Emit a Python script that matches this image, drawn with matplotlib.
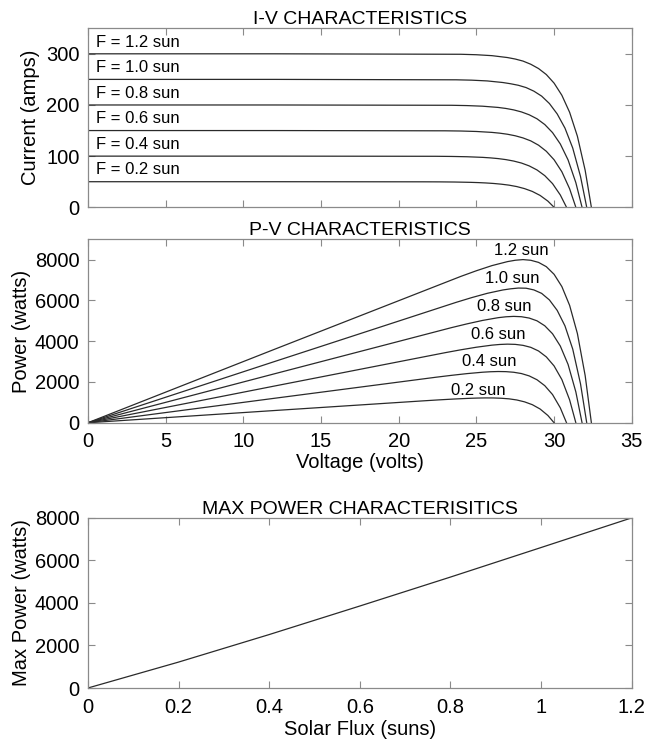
import matplotlib
matplotlib.use("Agg")
import matplotlib.pyplot as plt
import numpy as np

plt.rcParams['font.family'] = ['Liberation Sans', 'DejaVu Sans']

# solar flux levels (suns)
flux = [0.2, 0.4, 0.6, 0.8, 1.0, 1.2]

# I-V points per flux level: voltage (volts) and current (amps)
v_02 = [0, 12, 21.6, 22.6, 23.6, 24.6, 25.1, 25.6, 26.1, 26.6, 27.1, 27.6, 28.1, 28.6, 29.1, 29.6, 30.0]
i_02 = [50, 50, 49.8, 49.7, 49.4, 48.8, 48.3, 47.6, 46.6, 45.2, 43.3, 40.5, 36.5, 31.0, 23.2, 12.1, 0]

v_04 = [0, 12, 22.4, 23.4, 24.4, 25.4, 25.9, 26.4, 26.9, 27.4, 27.9, 28.4, 28.9, 29.4, 29.9, 30.4, 30.8]
i_04 = [100, 100, 99.7, 99.4, 98.8, 97.6, 96.6, 95.2, 93.2, 90.4, 86.5, 80.9, 73.0, 61.9, 46.3, 24.1, 0]

v_06 = [0, 12, 23.0, 24.0, 25.0, 26.0, 26.5, 27.0, 27.5, 28.0, 28.5, 29.0, 29.5, 30.0, 30.5, 31.0, 31.4]
i_06 = [150, 150, 149.5, 149.1, 148.2, 146.4, 144.9, 142.8, 139.8, 135.6, 129.8, 121.4, 109.5, 92.9, 69.5, 36.2, 0]

v_08 = [0, 12, 23.4, 24.4, 25.4, 26.4, 26.9, 27.4, 27.9, 28.4, 28.9, 29.4, 29.9, 30.4, 30.9, 31.4, 31.8]
i_08 = [200, 200, 199.4, 198.8, 197.6, 195.2, 193.2, 190.4, 186.4, 180.8, 173.0, 161.8, 146.0, 123.8, 92.6, 48.2, 0]

v_10 = [0, 12, 23.7, 24.7, 25.7, 26.7, 27.2, 27.7, 28.2, 28.7, 29.2, 29.7, 30.2, 30.7, 31.2, 31.7, 32.1]
i_10 = [250, 250, 249.2, 248.5, 247.0, 243.9, 241.5, 238.5, 234.0, 227.0, 217.3, 202.8, 182.5, 154.8, 115.8, 60.3, 0]

v_12 = [0, 12, 24.0, 25.0, 26.0, 27.0, 27.5, 28.0, 28.5, 29.0, 29.5, 30.0, 30.5, 31.0, 31.5, 32.0, 32.4]
i_12 = [300, 300, 299.1, 298.2, 296.4, 292.7, 289.8, 285.8, 279.6, 271.2, 259.5, 242.7, 219.0, 185.7, 138.9, 72.3, 0]

volts = [v_02, v_04, v_06, v_08, v_10, v_12]
amps = [i_02, i_04, i_06, i_08, i_10, i_12]

iv_labels = ['F = 0.2 sun', 'F = 0.4 sun', 'F = 0.6 sun', 'F = 0.8 sun', 'F = 1.0 sun', 'F = 1.2 sun']
pv_labels = ['0.2 sun', '0.4 sun', '0.6 sun', '0.8 sun', '1.0 sun', '1.2 sun']
# where the P-V labels sit (volts, watts)
pv_label_x = [25.1, 25.8, 26.4, 26.8, 27.3, 27.9]
pv_label_y = [1590, 2990, 4340, 5690, 7080, 8430]

line_col = '#2a2a2a'
frame_col = '#8a8a8a'
fs = 14.5

fig = plt.figure(figsize=(6.46, 7.43), dpi=100)
ax_iv = fig.add_axes([0.136, 0.721, 0.842, 0.241])
ax_pv = fig.add_axes([0.136, 0.431, 0.842, 0.247])
ax_mp = fig.add_axes([0.136, 0.074, 0.842, 0.229])


def style(ax, ylab_x):
    for s in ax.spines.values():
        s.set_color(frame_col)
        s.set_linewidth(0.9)
    ax.tick_params(direction='in', top=True, right=True, length=5, width=0.8,
                   color=frame_col, labelsize=fs)
    ax.tick_params(axis='x', pad=7)
    ax.tick_params(axis='y', pad=6)
    ax.yaxis.set_label_coords(ylab_x, 0.5)


# I-V curves
for v, i, lab in zip(volts, amps, iv_labels):
    ax_iv.plot(v, i, color=line_col, lw=0.9)
    ax_iv.text(0.5, i[0] + 23, lab, fontsize=12, va='center', ha='left')
ax_iv.set_xlim(0, 35)
ax_iv.set_ylim(0, 350)
ax_iv.set_xticks(np.arange(0, 36, 5))
ax_iv.set_xticklabels([])
ax_iv.set_yticks([0, 100, 200, 300])
ax_iv.set_ylabel('Current (amps)', fontsize=fs)
ax_iv.set_title('I-V CHARACTERISTICS', fontsize=14, pad=3)
style(ax_iv, -0.088)

# P-V curves, power = V * I
pmax = [0]
for v, i, lab, lx, ly in zip(volts, amps, pv_labels, pv_label_x, pv_label_y):
    p = np.array(v) * np.array(i)
    pmax.append(p.max())
    ax_pv.plot(v, p, color=line_col, lw=0.9)
    ax_pv.text(lx, ly, lab, fontsize=12, ha='center', va='center')
ax_pv.set_xlim(0, 35)
ax_pv.set_ylim(0, 9000)
ax_pv.set_xticks(np.arange(0, 36, 5))
ax_pv.set_yticks([0, 2000, 4000, 6000, 8000])
ax_pv.set_xlabel('Voltage (volts)', fontsize=fs, labelpad=1)
ax_pv.set_ylabel('Power (watts)', fontsize=fs)
ax_pv.set_title('P-V CHARACTERISTICS', fontsize=14, pad=3)
style(ax_pv, -0.104)

# max power point vs flux
ax_mp.plot([0] + flux, pmax, color=line_col, lw=0.9)
ax_mp.set_xlim(0, 1.2)
ax_mp.set_ylim(0, 8000)
ax_mp.set_xticks([0, 0.2, 0.4, 0.6, 0.8, 1.0, 1.2])
ax_mp.set_xticklabels(['0', '0.2', '0.4', '0.6', '0.8', '1', '1.2'])
ax_mp.set_yticks([0, 2000, 4000, 6000, 8000])
ax_mp.set_xlabel('Solar Flux (suns)', fontsize=fs, labelpad=2)
ax_mp.set_ylabel('Max Power (watts)', fontsize=fs)
ax_mp.set_title('MAX POWER CHARACTERISITICS', fontsize=14, pad=3)
style(ax_mp, -0.104)

fig.savefig('out.png', dpi=100)
